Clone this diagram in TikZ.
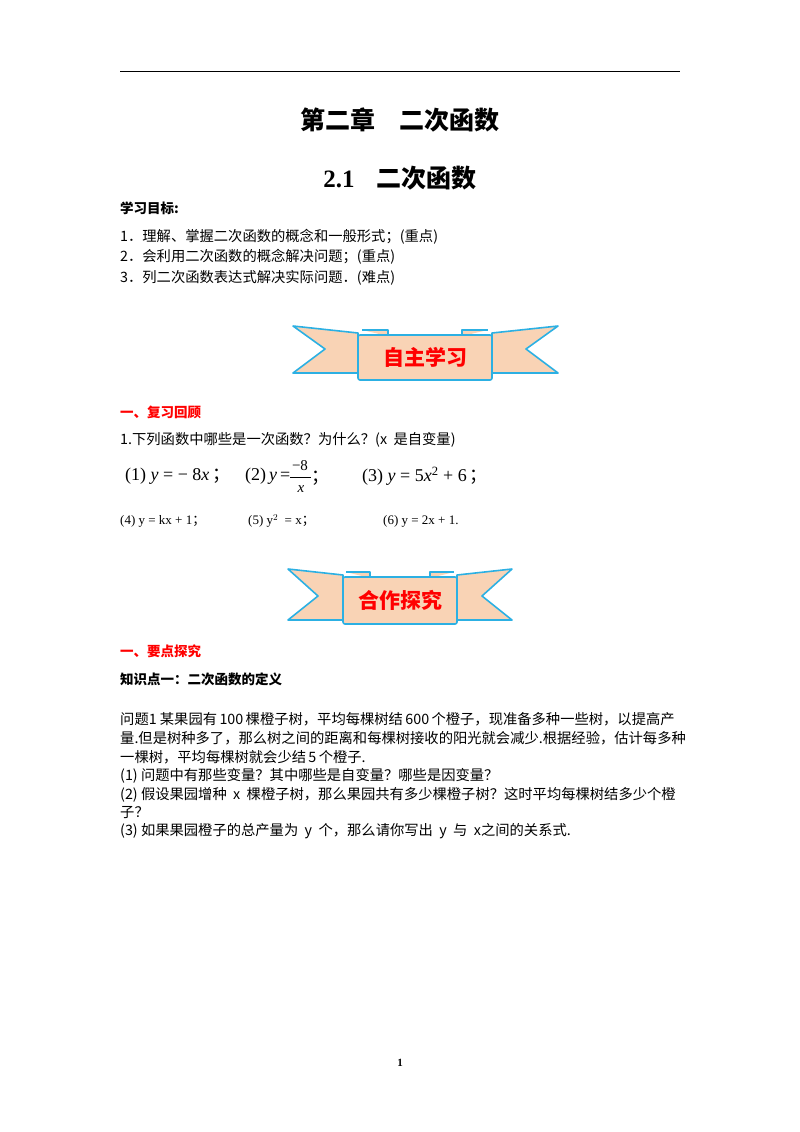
\documentclass[tikz,border=0pt]{standalone}
\usepackage{fontspec}
\setmainfont{Liberation Serif}
\newfontfamily\cjk{Noto Sans CJK SC}
\definecolor{bfill}{HTML}{F9D3B5}
\definecolor{bline}{HTML}{2CB0E3}
\tikzset{
 t/.style={anchor=west,inner sep=0pt,font=\fontsize{14.3}{16}\selectfont\cjk},
 h/.style={anchor=west,inner sep=0pt,font=\fontsize{13.5}{16}\selectfont\cjk\bfseries},
 band/.style={fill=bfill,draw=bline,line width=1.6pt,line join=round},
 f/.style={anchor=west,inner sep=0pt,font=\fontsize{18}{20}\selectfont}
}
\begin{document}
\begin{tikzpicture}[x=1pt,y=-1pt]
\useasboundingbox (0,0) rectangle (800,1132);
\draw[line width=1pt] (120,72) -- (680,72);
\node[inner sep=0pt,font=\fontsize{25}{28}\selectfont\cjk\bfseries] (title) at (400,120) {第二章\hspace{24pt}二次函数};
\node[inner sep=0pt,font=\fontsize{25}{28}\selectfont\bfseries] (sub) at (400,178) {2.1\hspace{22pt}{\cjk 二次函数}};
\node[h] (g) at (120,208) {学习目标:};
\node[t] (g1) at (120,237) {1．理解、掌握二次函数的概念和一般形式；(重点)};
\node[t] (g2) at (120,257) {2．会利用二次函数的概念解决问题；(重点)};
\node[t] (g3) at (120,278) {3．列二次函数表达式解决实际问题．(难点)};
% banner 1
\draw[band] (358,333) -- (293,326) -- (325,349) -- (293,373) -- (358,373) -- cycle;
\draw[band] (492,333) -- (558,326) -- (526,349) -- (558,373) -- (492,373) -- cycle;
\draw[band] (362,330) -- (388,330) -- (388,336);
\draw[band] (462,336) -- (462,330) -- (488,330);
\draw[band,rounded corners=2pt] (358,335) rectangle (492,380);
\node[font=\fontsize{21}{24}\selectfont\cjk\bfseries,text=red] (b1) at (425,357) {自主学习};
\node[h,text=red] (s1) at (120,412) {一、复习回顾};
\node[t] (q1) at (120,440) {1.下列函数中哪些是一次函数？为什么？(x\ \ 是自变量)};
\node[f] (e1) at (125,476) {(1) \textit{y} = − 8\textit{x}\,{\cjk ；}};
\node[f] (e2) at (245,476) {(2)\,\textit{y}\,=};
\node[inner sep=0pt,font=\fontsize{15}{16}\selectfont] (e2n) at (300,466) {−8};
\node[inner sep=0pt,font=\fontsize{15}{16}\selectfont\itshape] (e2d) at (301,489) {x};
\draw[line width=0.6pt] (290,477) -- (311,477);
\node[f] (e2s) at (311,478) {\cjk ；};
\node[f] (e3) at (362,476) {(3) \textit{y} = 5\textit{x}\textsuperscript{2} + 6\,{\cjk ；}};
\node[anchor=west,inner sep=0pt,font=\fontsize{13}{16}\selectfont] (e4) at (120,521) {(4) y = kx + 1{\cjk ；}};
\node[anchor=west,inner sep=0pt,font=\fontsize{13}{16}\selectfont] (e5) at (248,521) {(5) y$^2$\ \ = x{\cjk ；}};
\node[anchor=west,inner sep=0pt,font=\fontsize{13}{16}\selectfont] (e6) at (383,521) {(6) y = 2x + 1.};
% banner 2
\draw[band] (343,575) -- (288,569) -- (318,596) -- (288,620) -- (343,620) -- cycle;
\draw[band] (457,575) -- (512,569) -- (482,596) -- (512,620) -- (457,620) -- cycle;
\draw[band] (346,572) -- (370,572) -- (370,578);
\draw[band] (430,578) -- (430,572) -- (454,572);
\draw[band,rounded corners=2pt] (343,577) rectangle (457,624);
\node[font=\fontsize{21}{24}\selectfont\cjk\bfseries,text=red] (b2) at (400,600) {合作探究};
\node[h,text=red] (s2) at (120,651) {一、要点探究};
\node[h] (k1) at (120,679) {知识点一：二次函数的定义};
\node[t] (p1) at (120,719) {问题1\ 某果园有\,100\,棵橙子树，平均每棵树结\,600\,个橙子，现准备多种一些树，以提高产};
\node[t] (p2) at (120,738) {量.但是树种多了，那么树之间的距离和每棵树接收的阳光就会减少.根据经验，估计每多种};
\node[t] (p3) at (120,757) {一棵树，平均每棵树就会少结\,5\,个橙子.};
\node[t] (p4) at (120,776) {(1)\ 问题中有那些变量？其中哪些是自变量？哪些是因变量？};
\node[t] (p5) at (120,795) {(2)\ 假设果园增种\ \ x\ \ 棵橙子树，那么果园共有多少棵橙子树？这时平均每棵树结多少个橙};
\node[t] (p6) at (120,813) {子？};
\node[t] (p7) at (120,831) {(3)\ 如果果园橙子的总产量为\ \ y\ \ 个，那么请你写出\ \ y\ \ 与\ \ x之间的关系式.};
\node[font=\fontsize{11}{13}\selectfont\bfseries] (pg) at (400,1063) {1};
\end{tikzpicture}
\end{document}
